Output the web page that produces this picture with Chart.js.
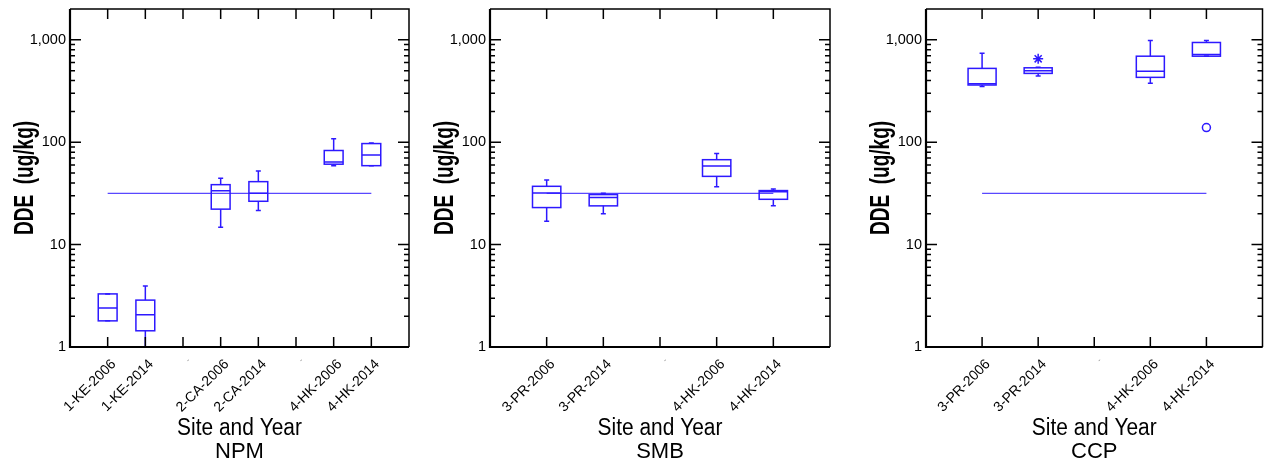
<!DOCTYPE html>
<html>
<head>
<meta charset="utf-8">
<script src="https://cdn.jsdelivr.net/npm/chart.js@4.4.1/dist/chart.umd.min.js"></script>
<style>
  html, body { margin: 0; padding: 0; background: #fff; }
  #wrap { position: relative; width: 1269px; height: 466px; }
  .panel { position: absolute; top: 0; height: 466px; }
</style>
</head>
<body>
<div id="wrap">
  <div class="panel" style="left:0;width:420px"><canvas id="npm"></canvas></div>
  <div class="panel" style="left:420px;width:420px"><canvas id="smb"></canvas></div>
  <div class="panel" style="left:840px;width:429px"><canvas id="ccp"></canvas></div>
</div>
<script>
// guideline level drawn across every panel (ug/kg)
const refLevel = 31.6;

// y axis labels and tick marks (log scale)
const yMajor = [1, 10, 100, 1000];
const yMinorSteps = [2, 3, 4, 5, 6, 7, 8, 9];

const yTitle = 'DDE  (ug/kg)';
const xTitle = 'Site and Year';

// NPM
const npmSites = ['1-KE-2006', '1-KE-2014', '-', '2-CA-2006', '2-CA-2014', '-', '4-HK-2006', '4-HK-2014'];
const npmLow  = [1.8, 1.0, null, 14.8, 21.5, null, 59, 59];
const npmQ1   = [1.8, 1.44, null, 22.2, 26.5, null, 61, 59];
const npmMed  = [2.4, 2.06, null, 33.5, 31.7, null, 64, 75];
const npmQ3   = [3.3, 2.87, null, 38.5, 41.2, null, 83, 97];
const npmHigh = [3.3, 3.95, null, 44.4, 52.4, null, 108, 98];

// SMB
const smbSites = ['3-PR-2006', '3-PR-2014', '-', '4-HK-2006', '4-HK-2014'];
const smbLow  = [16.9, 20.0, null, 36.8, 23.9];
const smbQ1   = [23.0, 23.9, null, 46.4, 27.7];
const smbMed  = [32.0, 28.8, null, 58.5, 32.9];
const smbQ3   = [37.1, 30.8, null, 67.5, 33.7];
const smbHigh = [42.8, 31.7, null, 77.6, 35.0];

// CCP
const ccpSites = ['3-PR-2006', '3-PR-2014', '-', '4-HK-2006', '4-HK-2014'];
const ccpLow  = [351, 443, null, 376, 692];
const ccpQ1   = [362, 470, null, 430, 692];
const ccpMed  = [372, 499, null, 492, 719];
const ccpQ3   = [526, 533, null, 692, 942];
const ccpHigh = [741, 540, null, 984, 984];
const ccpFar   = [{ x: 2, y: 652 }];   // far outliers (*)
const ccpOut   = [{ x: 5, y: 139 }];   // outliers (o)

const BLUE = 'rgb(45,25,255)';
const FONT = "'Liberation Sans', Arial, sans-serif";

const yTicks = [];
yMajor.forEach(function (d, k) {
    yTicks.push(d);
    if (k < yMajor.length - 1) yMinorSteps.forEach(function (m) { yTicks.push(d * m); });
});

// condensed text, like the narrow face the titles use
function narrowText(ctx, text, x, y, font, squeeze, angle) {
    ctx.save();
    ctx.translate(x, y);
    ctx.rotate(angle);
    ctx.scale(squeeze, 1);
    ctx.font = font + ' ' + FONT;
    ctx.fillStyle = '#000';
    ctx.textAlign = 'center';
    ctx.textBaseline = 'alphabetic';
    ctx.fillText(text, 0, 0);
    ctx.restore();
}

function makePanel(id, sites, low, q1, med, q3, high, far, out, name, pad) {
    const isGap = function (c) { return c.tick && sites[c.tick.value - 1] === '-'; };

    const boxes = {
        id: 'boxes',
        afterDatasetsDraw(chart) {
            const ctx = chart.ctx, x = chart.scales.x, y = chart.scales.y;
            const half = x.getPixelForValue(1.25) - x.getPixelForValue(1);
            ctx.save();
            ctx.strokeStyle = BLUE;
            ctx.lineWidth = 1.5;
            for (let i = 0; i < sites.length; i++) {
                if (med[i] == null) continue;
                const cx = x.getPixelForValue(i + 1);
                const yLo = y.getPixelForValue(low[i]), yQ1 = y.getPixelForValue(q1[i]);
                const yMd = y.getPixelForValue(med[i]), yQ3 = y.getPixelForValue(q3[i]);
                const yHi = y.getPixelForValue(high[i]);
                ctx.strokeRect(cx - half, yQ3, half * 2, yQ1 - yQ3);
                ctx.beginPath();
                ctx.moveTo(cx - half, yMd); ctx.lineTo(cx + half, yMd);
                // whiskers + caps
                ctx.moveTo(cx, yQ3); ctx.lineTo(cx, yHi);
                ctx.moveTo(cx - 2.5, yHi); ctx.lineTo(cx + 2.5, yHi);
                ctx.moveTo(cx, yQ1); ctx.lineTo(cx, yLo);
                ctx.moveTo(cx - 2.5, yLo); ctx.lineTo(cx + 2.5, yLo);
                ctx.stroke();
            }
            ctx.restore();
        },
        afterDraw(chart) {
            const ctx = chart.ctx, x = chart.scales.x, y = chart.scales.y, a = chart.chartArea;
            ctx.save();
            ctx.strokeStyle = '#000';
            ctx.lineWidth = 1.5;
            ctx.beginPath();
            y.ticks.forEach(function (t) {
                const py = y.getPixelForValue(t.value);
                const len = yMajor.includes(t.value) ? 11 : 5;
                ctx.moveTo(a.left, py); ctx.lineTo(a.left + len, py);
                ctx.moveTo(a.right, py); ctx.lineTo(a.right - len, py);
            });
            x.ticks.forEach(function (t) {
                const px = x.getPixelForValue(t.value);
                ctx.moveTo(px, a.top); ctx.lineTo(px, a.top + 10);
                ctx.moveTo(px, a.bottom); ctx.lineTo(px, a.bottom - 10);
            });
            ctx.stroke();
            // frame
            ctx.beginPath();
            ctx.moveTo(a.left, a.top); ctx.lineTo(a.right, a.top); ctx.lineTo(a.right, a.bottom);
            ctx.stroke();
            ctx.lineWidth = 2.2;
            ctx.beginPath();
            ctx.moveTo(a.left, a.top); ctx.lineTo(a.left, a.bottom); ctx.lineTo(a.right, a.bottom);
            ctx.stroke();
            ctx.restore();

            // axis titles and panel name
            const midX = (a.left + a.right) / 2;
            narrowText(ctx, yTitle, a.left - 37, (a.top + a.bottom) / 2, 'bold 28px', 0.68, -Math.PI / 2);
            narrowText(ctx, xTitle, midX, 435, '23.5px', 0.89, 0);
            narrowText(ctx, name, midX, 458, '22px', 1, 0);
        }
    };

    const datasets = [{
        type: 'line',
        data: [{ x: 1, y: refLevel }, { x: sites.length, y: refLevel }],
        borderColor: 'rgba(60,40,255,0.85)',
        borderWidth: 1.3,
        pointRadius: 0
    }];
    if (far) datasets.push({
        data: far, pointStyle: 'star', pointRadius: 5,
        borderColor: BLUE, borderWidth: 1.5, backgroundColor: BLUE
    });
    if (out) datasets.push({
        data: out, pointStyle: 'circle', pointRadius: 4,
        borderColor: BLUE, borderWidth: 1.5, backgroundColor: '#fff'
    });

    return new Chart(document.getElementById(id), {
        type: 'scatter',
        data: { datasets: datasets },
        plugins: [boxes],
        options: {
            responsive: true,
            maintainAspectRatio: false,
            animation: false,
            layout: { padding: { top: 9, left: pad[0], right: pad[1], bottom: 0 } },
            plugins: {
                legend: { display: false },
                tooltip: { enabled: false }
            },
            scales: {
                x: {
                    type: 'linear', min: 0, max: sites.length + 1,
                    grid: { display: false, drawTicks: false },
                    border: { display: false },
                    afterBuildTicks: function (s) { s.ticks = sites.map(function (c, i) { return { value: i + 1 }; }); },
                    afterFit: function (s) { s.height = 119; s.paddingLeft = 0; s.paddingRight = 0; },
                    ticks: {
                        autoSkip: false, maxRotation: 45, minRotation: 45, padding: 9, labelOffset: 6,
                        callback: function (v) { return sites[v - 1] || ''; },
                        color: function (c) { return isGap(c) ? '#888' : '#000'; },
                        font: function (c) { return { family: FONT, size: isGap(c) ? 8 : 14 }; }
                    }
                },
                y: {
                    type: 'logarithmic', min: 1, max: 2000,
                    grid: { display: false, drawTicks: false },
                    border: { display: false },
                    afterBuildTicks: function (s) { s.ticks = yTicks.map(function (v) { return { value: v }; }); },
                    afterFit: function (s) { s.width = 70; s.paddingTop = 0; s.paddingBottom = 0; },
                    ticks: {
                        autoSkip: false, padding: 4, color: '#000',
                        font: { family: FONT, size: 14.5 },
                        callback: function (v) { return yMajor.includes(v) ? v.toLocaleString('en-US') : ''; }
                    }
                }
            }
        }
    });
}

makePanel('npm', npmSites, npmLow, npmQ1, npmMed, npmQ3, npmHigh, null, null, 'NPM', [0, 11]);
makePanel('smb', smbSites, smbLow, smbQ1, smbMed, smbQ3, smbHigh, null, null, 'SMB', [0, 10]);
makePanel('ccp', ccpSites, ccpLow, ccpQ1, ccpMed, ccpQ3, ccpHigh, ccpFar, ccpOut, 'CCP', [16, 4]);
</script>
</body>
</html>
